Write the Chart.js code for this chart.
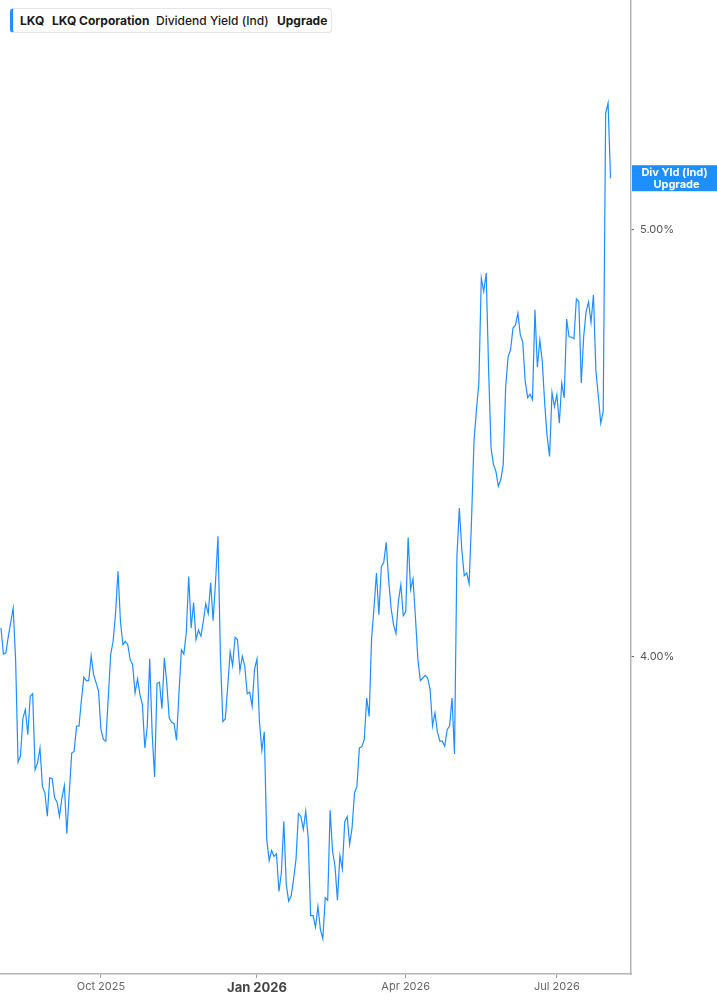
<!DOCTYPE html>
<html>
<head>
<meta charset="utf-8">
<script src="https://cdn.jsdelivr.net/npm/chart.js@4"></script>
<style>
  body { margin: 0; background: #fff; }
  #wrap { position: relative; width: 717px; height: 1005px; }
  #legend {
    position: absolute; left: 10px; top: 8px; width: 322px; height: 25px;
    border: 1px solid #e4e4e4; border-left: 3px solid #1e8fff; border-radius: 4px;
    background: #fff; font-family: Inter, "Noto Sans", sans-serif; font-size: 12px; color: #1a1a1a;
    box-sizing: border-box;
  }
  #legend span { position: absolute; top: 4px; white-space: nowrap; }
</style>
</head>
<body>
<div id="wrap">
  <canvas id="myChart"></canvas>
  <div id="legend">
    <span style="left:7px;font-weight:700">LKQ</span>
    <span style="left:39px;font-weight:700">LKQ Corporation</span>
    <span style="left:143px;font-weight:500">Dividend Yield (Ind)</span>
    <span style="left:264px;font-weight:700">Upgrade</span>
  </div>
</div>
<script>
// dividend yield (%) per trading day, null = not read
const yieldPct = [
  4.067, 4.006, 4.009, 4.047, null, 4.114, 3.993, 3.753, 3.767, 3.856,
  3.876, 3.817, 3.907, 3.913, 3.735, 3.751, 3.786, 3.696, 3.681, 3.626,
  3.716, 3.714, 3.669, 3.659, 3.626, 3.669, 3.698, 3.585, null, 3.774,
  3.778, 3.837, 3.837, 3.899, 3.952, 3.944, 3.944, 4.002, 3.958, null,
  3.920, 3.829, 3.806, 3.802, null, 4.005, 4.036, 4.102, 4.200, 4.083,
  4.028, 4.036, 4.028, 3.993, 3.981, 3.915, 3.948, 3.911, 3.888, 3.786,
  3.837, 3.995, 3.821, 3.718, 3.937, 3.940, 3.878, 3.997, 3.938, 3.856,
  3.846, 3.843, 3.804, 3.915, 4.016, 4.006, 4.056, 4.188, 4.067, 4.127,
  4.040, 4.062, 4.048, 4.083, 4.124, 4.101, 4.173, 4.084, 4.176, 4.282,
  4.001, 3.848, 3.854, 3.930, 4.011, 3.979, 4.045, 4.040, 3.967, 4.001,
  3.977, 3.913, 3.917, 3.884, 3.971, 3.995, 3.848, 3.781, 3.824, 3.571,
  3.522, 3.546, 3.532, 3.538, 3.450, 3.493, 3.614, 3.466, 3.427, 3.439,
  3.478, 3.525, 3.632, 3.626, 3.595, 3.638, 3.575, 3.393, 3.393, 3.366,
  3.415, 3.361, 3.339, 3.435, 3.429, 3.640, 3.544, 3.509, 3.429, 3.534,
  3.503, 3.614, 3.625, 3.560, 3.599, 3.681, 3.696, 3.786, 3.789, 3.806,
  3.903, 3.860, 4.042, 4.115, 4.196, 4.098, 4.211, 4.221, 4.268, 4.180,
  4.114, 4.075, 4.054, 4.130, 4.169, 4.096, 4.105, 4.279, 4.157, 4.182,
  4.091, 3.993, 3.944, 3.950, 3.956, 3.950, 3.923, 3.838, 3.868, 3.823,
  3.802, 3.802, 3.790, 3.829, 3.838, 3.903, 3.772, 4.235, 4.348, 4.251,
  4.190, 4.196, 4.171, 4.321, 4.504, 4.578, 4.641, 4.887, 4.856, 4.899,
  4.672, 4.489, 4.450, 4.434, 4.399, 4.415, 4.450, 4.633, 4.703, 4.719,
  4.770, 4.776, 4.805, 4.754, 4.737, 4.646, 4.607, 4.615, 4.602, 4.813,
  4.678, 4.742, 4.692, 4.594, 4.516, 4.469, 4.619, 4.586, 4.614, 4.547,
  4.641, 4.606, 4.791, 4.749, 4.749, 4.745, 4.838, 4.832, 4.641, 4.750,
  4.809, 4.831, 4.783, 4.848, 4.670, 4.610, 4.547, 4.574, 5.273, 5.297,
  5.121
];
const monthTickIdx = [41, 105, 166, 228];
const monthLabels = ['Oct 2025', 'Jan 2026', 'Apr 2026', 'Jul 2026'];
const yTicks = [4, 5];
const lastLabel = ['Div Yld (Ind)', 'Upgrade'];

const blue = '#1e8fff';

// box with series name on the right axis, at the last value
const lastValueBox = {
  id: 'lastValueBox',
  afterDraw(chart) {
    const c = chart.ctx, area = chart.chartArea;
    const vals = yieldPct.filter(v => v !== null);
    const y = chart.scales.y.getPixelForValue(vals[vals.length - 1]);
    const x0 = area.right + 1, w = chart.width - x0;
    c.save();
    c.fillStyle = blue;
    c.fillRect(x0, y - 13, w, 26);
    c.fillStyle = '#fff';
    c.font = 'bold 11px Inter, "Noto Sans", sans-serif';
    c.textAlign = 'center';
    c.textBaseline = 'middle';
    c.fillText(lastLabel[0], x0 + w / 2, y - 5.5);
    c.fillText(lastLabel[1], x0 + w / 2 + 2, y + 6);
    c.restore();
  }
};

const ctx = document.getElementById('myChart');
const myChart = new Chart(ctx, {
  type: 'line',
  data: {
    datasets: [{
      data: yieldPct.map((v, i) => ({ x: i, y: v })),
      borderColor: blue,
      borderWidth: 1.2,
      pointRadius: 0,
      tension: 0,
      spanGaps: true
    }]
  },
  options: {
    responsive: true,
    maintainAspectRatio: false,
    animation: false,
    layout: { padding: 0 },
    plugins: { legend: { display: false }, tooltip: { enabled: false } },
    scales: {
      x: {
        type: 'linear',
        min: -0.4,
        max: 258.4,
        afterFit: s => { s.height = 31; s.paddingLeft = 0; s.paddingRight = 0 },
        afterBuildTicks: s => { s.ticks = monthTickIdx.map(v => ({ value: v })) },
        border: { display: true, color: '#b3b3b3', width: 1.5 },
        grid: { drawOnChartArea: false, drawTicks: true, tickLength: 4, color: '#999' },
        ticks: {
          autoSkip: false,
          maxRotation: 0,
          padding: 2,
          color: c => c.index === 1 ? '#444' : '#666',
          font: c => c.index === 1
            ? { family: 'Inter, "Noto Sans", sans-serif', size: 13, weight: 'bold' }
            : { family: 'Inter, "Noto Sans", sans-serif', size: 11 },
          callback: (v, i) => monthLabels[i]
        }
      },
      y: {
        position: 'right',
        min: 3.2564,
        max: 5.5386,
        afterFit: s => { s.width = 86; s.paddingTop = 0; s.paddingBottom = 0 },
        afterBuildTicks: s => { s.ticks = yTicks.map(v => ({ value: v })) },
        border: { display: true, color: '#b3b3b3', width: 1.5 },
        grid: { drawOnChartArea: false, drawTicks: true, tickLength: 3, color: '#666' },
        ticks: {
          padding: 6,
          color: '#555',
          font: { family: 'Inter, "Noto Sans", sans-serif', size: 11 },
          callback: v => v.toFixed(2) + '%'
        }
      }
    }
  },
  plugins: [lastValueBox]
});
</script>
</body>
</html>
